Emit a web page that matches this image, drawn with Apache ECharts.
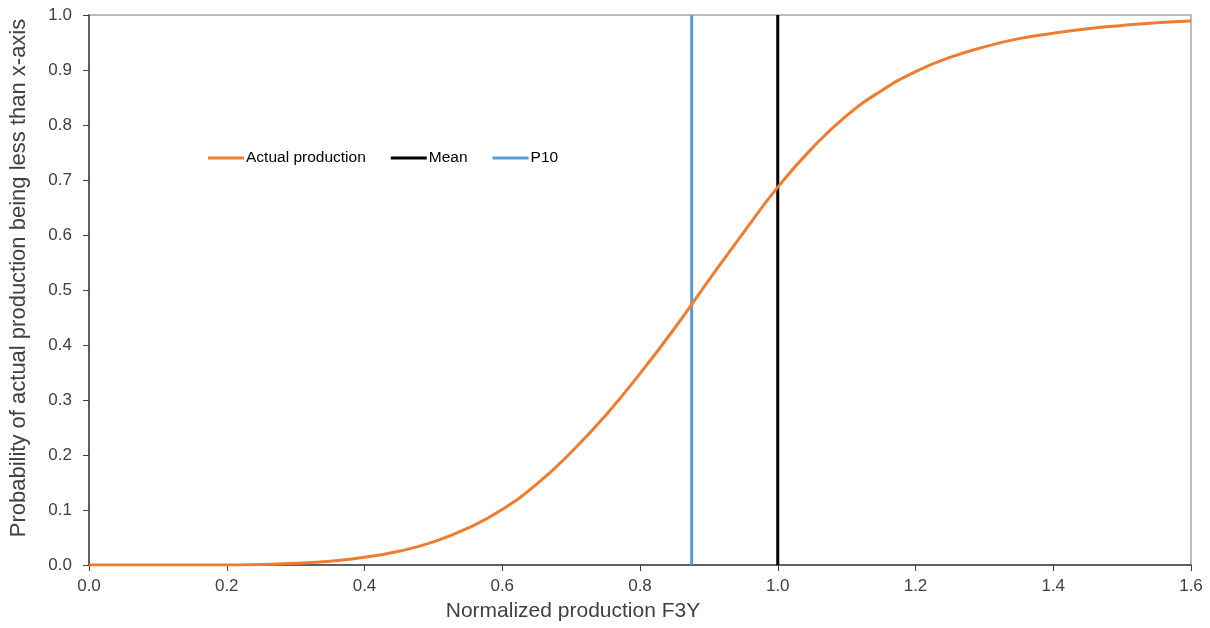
<!DOCTYPE html>
<html>
<head>
<meta charset="utf-8">
<script src="https://cdn.jsdelivr.net/npm/echarts@6/dist/echarts.min.js"></script>
<style>
  html, body { margin: 0; padding: 0; background: #fff; }
  #chart { width: 1210px; height: 628px; }
</style>
</head>
<body>
<div id="chart"></div>
<script>
// Normalized production (x) and cumulative probability (y), sampled every 0.05
const productionX = [0, 0.05, 0.1, 0.15, 0.2, 0.25, 0.3, 0.35, 0.4, 0.45, 0.5, 0.55, 0.6, 0.65, 0.7, 0.75,
  0.8, 0.85, 0.9, 0.95, 1.0, 1.05, 1.1, 1.15, 1.2, 1.25, 1.3, 1.35, 1.4, 1.45, 1.5, 1.55, 1.6];
const cumulativeProb = [0, 0, 0, 0, 0, 0.001, 0.003, 0.007, 0.014, 0.025, 0.042, 0.067, 0.101, 0.147, 0.205, 0.272,
  0.348, 0.430, 0.518, 0.604, 0.687, 0.758, 0.817, 0.862, 0.897, 0.923, 0.942, 0.957, 0.967, 0.975, 0.981, 0.986, 0.989];

// Reference verticals
const meanValue = 1.0;
const p10Value = 0.875;

const xTicks = { min: 0, max: 1.6, interval: 0.2 };
const yTicks = { min: 0, max: 1.0, interval: 0.1 };

const curve = productionX.map((x, i) => [x, cumulativeProb[i]]);
const vertical = v => [[v, yTicks.min], [v, yTicks.max]];

const chart = echarts.init(document.getElementById('chart'));
const font = 'Liberation Sans, Arial, sans-serif';
const axisText = '#404040';

chart.setOption({
  animation: false,
  backgroundColor: '#ffffff',
  textStyle: { fontFamily: font },
  grid: {
    left: 88, right: 19, top: 15, bottom: 63,
    show: true, borderColor: '#a6a6a6', borderWidth: 1.5, backgroundColor: 'transparent'
  },
  legend: {
    left: 203, top: 145,
    icon: 'rect',
    itemWidth: 36, itemHeight: 3, itemGap: 25,
    textStyle: { fontSize: 15.5, color: '#000', fontFamily: font, padding: [0, 0, 0, -3] },
    data: ['Actual production', 'Mean', 'P10']
  },
  xAxis: {
    type: 'value',
    min: xTicks.min, max: xTicks.max, interval: xTicks.interval,
    name: 'Normalized production F3Y',
    nameLocation: 'middle', nameGap: 36,
    nameTextStyle: { fontSize: 21, color: axisText, fontFamily: font, padding: [0, 134, 0, 0] },
    axisLine: { show: true, onZero: false, lineStyle: { color: '#404040', width: 1.5 } },
    axisTick: { show: true, inside: false, length: 6, lineStyle: { color: '#404040' } },
    axisLabel: { fontSize: 17, color: axisText, margin: 13, formatter: v => v.toFixed(1) },
    splitLine: { show: false }
  },
  yAxis: {
    type: 'value',
    min: yTicks.min, max: yTicks.max, interval: yTicks.interval,
    name: 'Probability of actual production being less than x-axis',
    nameLocation: 'middle', nameGap: 59, nameRotate: 90,
    nameTextStyle: { fontSize: 22, color: axisText, fontFamily: font, padding: [0, 0, 0, 24] },
    axisLine: { show: true, lineStyle: { color: '#404040', width: 1.5 } },
    axisTick: { show: true, inside: false, length: 6, lineStyle: { color: '#404040' } },
    axisLabel: { fontSize: 17, color: axisText, margin: 17, formatter: v => v.toFixed(1) },
    splitLine: { show: false }
  },
  series: [
    {
      name: 'Actual production', type: 'line', data: curve,
      smooth: 0.5, symbol: 'none',
      lineStyle: { color: '#ed7d31', width: 3 }, itemStyle: { color: '#ed7d31' }, z: 3
    },
    {
      name: 'Mean', type: 'line', data: vertical(meanValue),
      symbol: 'none',
      lineStyle: { color: '#000000', width: 3 }, itemStyle: { color: '#000000' }, z: 2
    },
    {
      name: 'P10', type: 'line', data: vertical(p10Value),
      symbol: 'none',
      lineStyle: { color: '#5b9bd5', width: 3 }, itemStyle: { color: '#5b9bd5' }, z: 2
    }
  ]
});
</script>
</body>
</html>
